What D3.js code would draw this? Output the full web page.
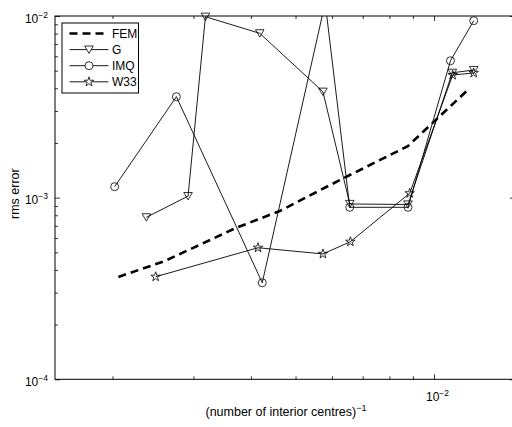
<!DOCTYPE html>
<html>
<head>
<meta charset="utf-8">
<script src="https://cdn.jsdelivr.net/npm/d3@7"></script>
<style>
  html, body { margin: 0; padding: 0; background: #fff; }
  svg { display: block; font-family: "Liberation Sans", Arial, Helvetica, sans-serif; }
</style>
</head>
<body>
<svg id="chart" width="512" height="427"></svg>
<script>
// ---- data ----
const seriesNames = ["FEM", "G", "IMQ", "W33"];
const femX = [2.06e-3, 2.60e-3, 3.71e-3, 4.62e-3, 6.24e-3, 8.77e-3, 1.196e-2];
const femY = [3.66e-4, 4.48e-4, 6.81e-4, 8.44e-4, 1.25e-3, 1.92e-3, 4.01e-3];
const gX = [2.37e-3, 2.92e-3, 3.185e-3, 4.18e-3, 5.735e-3, 6.56e-3, 8.78e-3, 1.096e-2, 1.22e-2];
const gY = [7.79e-4, 1.02e-3, 9.91e-3, 8.03e-3, 3.83e-3, 9.23e-4, 9.17e-4, 4.87e-3, 5.04e-3];
const imqX = [2.022e-3, 2.754e-3, 4.233e-3, 5.80e-3, 6.56e-3, 8.78e-3, 1.086e-2, 1.22e-2];
const imqY = [1.149e-3, 3.595e-3, 3.40e-4, 1.184e-2, 8.85e-4, 8.85e-4, 5.67e-3, 9.42e-3];
const w33X = [2.483e-3, 4.144e-3, 5.735e-3, 6.58e-3, 8.855e-3, 1.098e-2, 1.22e-2];
const w33Y = [3.67e-4, 5.30e-4, 4.90e-4, 5.72e-4, 1.057e-3, 4.73e-3, 4.86e-3];

const xDomain = [1.5e-3, 1.5e-2];
const yDomain = [1e-4, 1e-2];
const xMajorTicks = [1e-2];
const xMinorTicks = [2e-3, 3e-3, 4e-3, 5e-3, 6e-3, 7e-3, 8e-3, 9e-3];
const yMajorTicks = [1e-4, 1e-3, 1e-2];
const yMinorTicks = [2e-4, 3e-4, 4e-4, 5e-4, 6e-4, 7e-4, 8e-4, 9e-4,
                     2e-3, 3e-3, 4e-3, 5e-3, 6e-3, 7e-3, 8e-3, 9e-3];
const xLabel = "(number of interior centres)";
const xLabelExp = "\u22121";
const yLabel = "rms error";

// ---- layout ----
const L = 55, R = 515, T = 16, B = 379.3;
const svg = d3.select("#chart");
const x = d3.scaleLog().domain(xDomain).range([L, R]);
const y = d3.scaleLog().domain(yDomain).range([B, T]);

svg.append("defs").append("clipPath").attr("id", "plotclip")
  .append("rect").attr("x", L).attr("y", T).attr("width", R - L).attr("height", B - T);

function expLabel(sel) {
  sel.each(function(d) {
    const t = d3.select(this);
    const e = Math.round(Math.log10(d));
    t.text(null);
    t.append("tspan").text("10");
    t.append("tspan").attr("dy", "-0.55em").attr("font-size", "8.5px")
      .text(e < 0 ? "\u2212" + (-e) : String(e));
  });
}

function styleAxis(g) {
  g.select(".domain").remove();
  g.selectAll(".tick line").attr("stroke", "#000").attr("stroke-width", 0.8);
}

// axes: bottom
const gb = svg.append("g").attr("transform", `translate(0,${B})`);
gb.call(d3.axisBottom(x).tickValues(xMinorTicks).tickSize(-3).tickFormat(""));
styleAxis(gb);
const gbM = svg.append("g").attr("transform", `translate(0,${B})`);
gbM.call(d3.axisBottom(x).tickValues(xMajorTicks).tickSize(-5).tickPadding(13));
styleAxis(gbM);
gbM.selectAll(".tick text").attr("font-size", "12px").attr("fill", "#000")
  .attr("font-family", "Liberation Sans, Arial, sans-serif").call(expLabel)
  .attr("dx", "0.25em");

// top
const gt = svg.append("g").attr("transform", `translate(0,${T})`);
gt.call(d3.axisTop(x).tickValues(xMinorTicks).tickSize(-3).tickFormat(""));
styleAxis(gt);
const gtM = svg.append("g").attr("transform", `translate(0,${T})`);
gtM.call(d3.axisTop(x).tickValues(xMajorTicks).tickSize(-5).tickFormat(""));
styleAxis(gtM);

// left
const gl = svg.append("g").attr("transform", `translate(${L},0)`);
gl.call(d3.axisLeft(y).tickValues(yMinorTicks).tickSize(-3).tickFormat(""));
styleAxis(gl);
const glM = svg.append("g").attr("transform", `translate(${L},0)`);
glM.call(d3.axisLeft(y).tickValues(yMajorTicks).tickSize(-5).tickPadding(7));
styleAxis(glM);
glM.selectAll(".tick text").attr("font-size", "12px").attr("fill", "#000")
  .attr("font-family", "Liberation Sans, Arial, sans-serif").attr("dy", "0.5em").call(expLabel);

// right
const gr = svg.append("g").attr("transform", `translate(${R},0)`);
gr.call(d3.axisRight(y).tickValues(yMinorTicks).tickSize(-3).tickFormat(""));
styleAxis(gr);
const grM = svg.append("g").attr("transform", `translate(${R},0)`);
grM.call(d3.axisRight(y).tickValues(yMajorTicks).tickSize(-5).tickFormat(""));
styleAxis(grM);

// box
svg.append("rect").attr("x", L).attr("y", T).attr("width", R - L).attr("height", B - T)
  .attr("fill", "none").attr("stroke", "#000").attr("stroke-width", 1);

// axis titles
const xt = svg.append("text").attr("x", 286).attr("y", 416).attr("text-anchor", "middle")
  .attr("font-size", "12.5px").attr("fill", "#000");
xt.append("tspan").text(xLabel);
xt.append("tspan").attr("dy", "-0.6em").attr("font-size", "9px").text(xLabelExp);

svg.append("text").attr("transform", `translate(19,${(T + B) / 2 - 4}) rotate(-90)`)
  .attr("text-anchor", "middle").attr("font-size", "12.5px").attr("fill", "#000").text(yLabel);

// ---- marks ----
const line = d3.line().x(d => x(d[0])).y(d => y(d[1]));
const zip = (a, b) => a.map((v, i) => [v, b[i]]);

const triDown = "M0,3.8L-4.3,-3.6L4.3,-3.6Z";
const circ = d3.symbol().type({draw(ctx, s) { ctx.moveTo(4, 0); ctx.arc(0, 0, 4, 0, 2 * Math.PI); }})();
const star = d3.symbol().type(d3.symbolStar).size(28)();

const series = [
  { name: seriesNames[0], data: zip(femX, femY), dash: "8,5", width: 2.6, marker: null },
  { name: seriesNames[1], data: zip(gX, gY), dash: null, width: 0.9, marker: triDown },
  { name: seriesNames[2], data: zip(imqX, imqY), dash: null, width: 0.9, marker: circ },
  { name: seriesNames[3], data: zip(w33X, w33Y), dash: null, width: 0.9, marker: star }
];

const plot = svg.append("g");
const lines = plot.append("g").attr("clip-path", "url(#plotclip)");
series.forEach(s => {
  lines.append("path").attr("d", line(s.data)).attr("fill", "none")
    .attr("stroke", "#000").attr("stroke-width", s.width)
    .attr("stroke-dasharray", s.dash);
  if (s.marker) {
    plot.append("g").selectAll("path")
      .data(s.data.filter(d => d[1] <= yDomain[1] && d[1] >= yDomain[0]))
      .join("path")
      .attr("transform", d => `translate(${x(d[0])},${y(d[1])})`)
      .attr("d", s.marker).attr("fill", "none").attr("stroke", "#000").attr("stroke-width", 0.8);
  }
});

// ---- legend ----
const lg = svg.append("g");
const lx = 62, ly = 23, lw = 76.5, lh = 70;
lg.append("rect").attr("x", lx).attr("y", ly).attr("width", lw).attr("height", lh)
  .attr("fill", "#fff").attr("stroke", "#000").attr("stroke-width", 1);
series.forEach((s, i) => {
  const yy = 33.5 + i * 16.1;
  lg.append("line").attr("x1", 69.5).attr("x2", 108.5).attr("y1", yy).attr("y2", yy)
    .attr("stroke", "#000").attr("stroke-width", s.width).attr("stroke-dasharray", s.dash);
  if (s.marker) {
    lg.append("path").attr("transform", `translate(89,${yy})`).attr("d", s.marker)
      .attr("fill", "#fff").attr("stroke", "#000").attr("stroke-width", 0.8);
  }
  lg.append("text").attr("x", 112).attr("y", yy + 4.5).attr("font-size", "12px")
    .attr("fill", "#000").text(s.name);
});
</script>
</body>
</html>
